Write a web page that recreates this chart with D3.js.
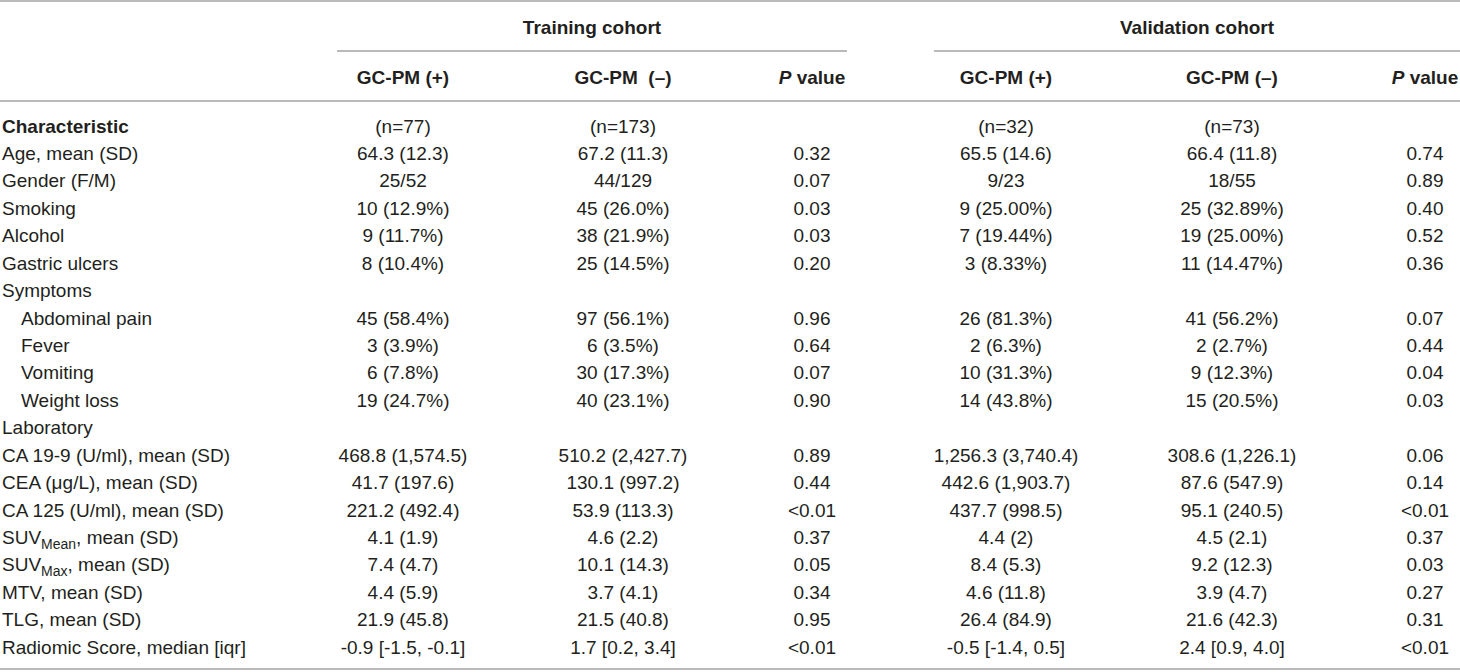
<!doctype html>
<html>
<head>
<meta charset="utf-8">
<title>cohort table</title>
<script src="https://d3js.org/d3.v7.min.js"></script>
<style>
  body { margin:0; background:#fff; }
  text { font-family:"Liberation Sans", Arial, sans-serif; font-size:19px; fill:#231f20; white-space:pre; }
  .bold { font-weight:bold; }
  line { stroke:#a3a3a3; stroke-width:1.6px; }
</style>
</head>
<body>
<svg></svg>
<script>
let w = 1460, h = 672;

let cohorts = ["Training cohort", "Validation cohort"];
let colHeaders = ["GC-PM (+)", "GC-PM  (–)", "P value", "GC-PM (+)", "GC-PM (–)", "P value"];

let rowLabels = ["Characteristic", "Age, mean (SD)", "Gender (F/M)", "Smoking", "Alcohol",
  "Gastric ulcers", "Symptoms", "Abdominal pain", "Fever", "Vomiting", "Weight loss",
  "Laboratory", "CA 19-9 (U/ml), mean (SD)", "CEA (μg/L), mean (SD)", "CA 125 (U/ml), mean (SD)",
  "SUV|Mean|, mean (SD)", "SUV|Max|, mean (SD)", "MTV, mean (SD)", "TLG, mean (SD)",
  "Radiomic Score, median [iqr]"];
let indented = ["Abdominal pain", "Fever", "Vomiting", "Weight loss"];

let trainPos = ["(n=77)", "64.3 (12.3)", "25/52", "10 (12.9%)", "9 (11.7%)", "8 (10.4%)", "",
  "45 (58.4%)", "3 (3.9%)", "6 (7.8%)", "19 (24.7%)", "", "468.8 (1,574.5)", "41.7 (197.6)",
  "221.2 (492.4)", "4.1 (1.9)", "7.4 (4.7)", "4.4 (5.9)", "21.9 (45.8)", "-0.9 [-1.5, -0.1]"];
let trainNeg = ["(n=173)", "67.2 (11.3)", "44/129", "45 (26.0%)", "38 (21.9%)", "25 (14.5%)", "",
  "97 (56.1%)", "6 (3.5%)", "30 (17.3%)", "40 (23.1%)", "", "510.2 (2,427.7)", "130.1 (997.2)",
  "53.9 (113.3)", "4.6 (2.2)", "10.1 (14.3)", "3.7 (4.1)", "21.5 (40.8)", "1.7 [0.2, 3.4]"];
let trainP = ["", "0.32", "0.07", "0.03", "0.03", "0.20", "", "0.96", "0.64", "0.07", "0.90", "",
  "0.89", "0.44", "<0.01", "0.37", "0.05", "0.34", "0.95", "<0.01"];
let validPos = ["(n=32)", "65.5 (14.6)", "9/23", "9 (25.00%)", "7 (19.44%)", "3 (8.33%)", "",
  "26 (81.3%)", "2 (6.3%)", "10 (31.3%)", "14 (43.8%)", "", "1,256.3 (3,740.4)", "442.6 (1,903.7)",
  "437.7 (998.5)", "4.4 (2)", "8.4 (5.3)", "4.6 (11.8)", "26.4 (84.9)", "-0.5 [-1.4, 0.5]"];
let validNeg = ["(n=73)", "66.4 (11.8)", "18/55", "25 (32.89%)", "19 (25.00%)", "11 (14.47%)", "",
  "41 (56.2%)", "2 (2.7%)", "9 (12.3%)", "15 (20.5%)", "", "308.6 (1,226.1)", "87.6 (547.9)",
  "95.1 (240.5)", "4.5 (2.1)", "9.2 (12.3)", "3.9 (4.7)", "21.6 (42.3)", "2.4 [0.9, 4.0]"];
let validP = ["", "0.74", "0.89", "0.40", "0.52", "0.36", "", "0.07", "0.44", "0.04", "0.03", "",
  "0.06", "0.14", "<0.01", "0.37", "0.03", "0.27", "0.31", "<0.01"];

let columns = [trainPos, trainNeg, trainP, validPos, validNeg, validP];

let svg = d3.select('svg')
            .attr('width', w)
            .attr('height', h);

// row centres and column centres
let yScale = d3.scalePoint()
               .domain(d3.range(rowLabels.length))
               .range([126, 647]);
let xScale = d3.scaleOrdinal()
               .domain(d3.range(colHeaders.length))
               .range([403, 623, 812, 1006, 1232, 1425]);
let groupSpan = [[337, 847], [934, 1460]];

// rules
svg.append('line').attr('x1', 0).attr('x2', w).attr('y1', 1).attr('y2', 1);
svg.append('line').attr('x1', 0).attr('x2', w).attr('y1', 101).attr('y2', 101);
svg.append('line').attr('x1', 0).attr('x2', w).attr('y1', 669).attr('y2', 669);
svg.selectAll('line.group')
   .data(groupSpan)
   .enter()
   .append('line')
   .attr('class', 'group')
   .attr('x1', function(d) { return d[0]; })
   .attr('x2', function(d) { return d[1]; })
   .attr('y1', 51)
   .attr('y2', 51);

// cohort titles
svg.selectAll('text.cohort')
   .data(cohorts)
   .enter()
   .append('text')
   .attr('class', 'cohort bold')
   .attr('x', function(d, i) { return (groupSpan[i][0] + groupSpan[i][1]) / 2; })
   .attr('y', 27)
   .attr('dy', '0.35em')
   .attr('text-anchor', 'middle')
   .text(function(d) { return d; });

// column headers
svg.selectAll('text.head')
   .data(colHeaders)
   .enter()
   .append('text')
   .attr('class', 'head bold')
   .attr('x', function(d, i) { return xScale(i); })
   .attr('y', 77)
   .attr('dy', '0.35em')
   .attr('text-anchor', 'middle')
   .each(function(d) {
       let t = d3.select(this);
       if (d.indexOf('P value') === 0) {
           t.append('tspan').style('font-style', 'italic').text('P');
           t.append('tspan').text(' value');
       } else {
           t.text(d);
       }
   });

// row labels
svg.selectAll('text.label')
   .data(rowLabels)
   .enter()
   .append('text')
   .attr('class', function(d, i) { return i === 0 ? 'label bold' : 'label'; })
   .attr('x', function(d) { return indented.indexOf(d) >= 0 ? 21 : 2; })
   .attr('y', function(d, i) { return yScale(i); })
   .attr('dy', '0.35em')
   .each(function(d) {
       let t = d3.select(this);
       let parts = d.split('|');
       if (parts.length === 3) {
           t.append('tspan').text(parts[0]);
           t.append('tspan').attr('dy', 5).style('font-size', '14px').text(parts[1]);
           t.append('tspan').attr('dy', -5).text(parts[2]);
       } else {
           t.text(d);
       }
   });

// cells
columns.forEach(function(col, c) {
    svg.append('g')
       .selectAll('text')
       .data(col)
       .enter()
       .append('text')
       .attr('x', xScale(c))
       .attr('y', function(d, i) { return yScale(i); })
       .attr('dy', '0.35em')
       .attr('text-anchor', 'middle')
       .text(function(d) { return d; });
});
</script>
</body>
</html>
